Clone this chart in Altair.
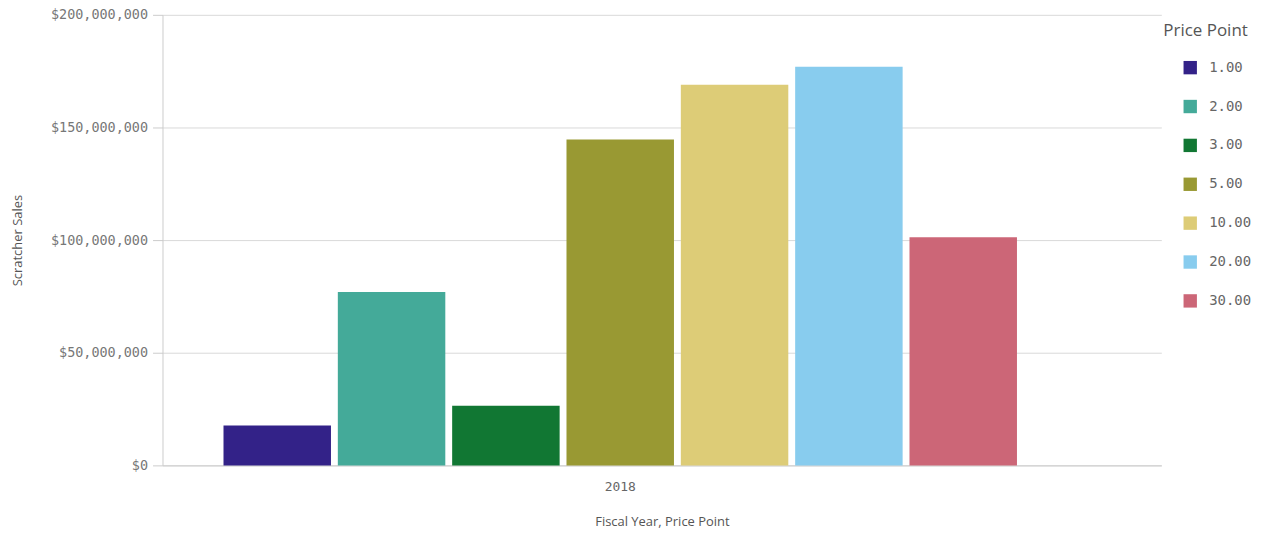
import altair as alt
import pandas as pd

years = ["2018"] * 7
prices = ["1.00", "2.00", "3.00", "5.00", "10.00", "20.00", "30.00"]
sales = [17700000, 77000000, 26500000, 144700000, 169000000, 177000000, 101300000]
colors = ["#332288", "#44aa99", "#117733", "#999933", "#ddcc77", "#88ccee", "#cc6677"]

df = pd.DataFrame({"Fiscal Year": years, "Price Point": prices, "Scratcher Sales": sales})

mono = "DejaVu Sans Mono"
sans = "Open Sans"

chart = alt.Chart(df).mark_bar().encode(
    x=alt.X(
        "Fiscal Year:N",
        scale=alt.Scale(paddingInner=0, paddingOuter=0.124, align=0.29),
        axis=alt.Axis(
            title="Fiscal Year, Price Point",
            labelAngle=0,
            ticks=False,
            labelFont=mono,
            labelFontSize=13,
            labelColor="#666666",
            labelPadding=15,
            titleFont=sans,
            titleFontSize=13,
            titleFontWeight="normal",
            titleColor="#555555",
            titlePadding=22,
            domainColor="#cccccc",
        ),
    ),
    xOffset=alt.XOffset(
        "Price Point:N",
        sort=prices,
        scale=alt.Scale(paddingInner=0.06, paddingOuter=0.03),
    ),
    y=alt.Y(
        "Scratcher Sales:Q",
        scale=alt.Scale(domain=[0, 200000000], nice=False),
        axis=alt.Axis(
            title="Scratcher Sales",
            values=[0, 50000000, 100000000, 150000000, 200000000],
            format="$,.0f",
            labelFont=mono,
            labelFontSize=13.5,
            labelColor="#777777",
            labelPadding=5,
            tickSize=10,
            tickColor="#cccccc",
            gridColor="#d9d9d9",
            domainColor="#cccccc",
            titleFont=sans,
            titleFontSize=13,
            titleFontWeight="normal",
            titleColor="#555555",
            titleX=-145,
            titleY=226,
            titleAngle=-90,
            titleAlign="center",
            titleBaseline="middle",
        ),
    ),
    color=alt.Color(
        "Price Point:N",
        sort=prices,
        scale=alt.Scale(domain=prices, range=colors),
        legend=alt.Legend(
            title="Price Point",
            orient="none",
            legendX=1004,
            legendY=8,
            titleFont=sans,
            titleFontSize=17,
            titleFontWeight="normal",
            titleColor="#555555",
            titlePadding=21,
            labelFont=mono,
            labelFontSize=14,
            labelColor="#666666",
            symbolType="square",
            symbolSize=180,
            symbolStrokeWidth=0,
            symbolOpacity=1,
            rowPadding=25,
            labelOffset=12,
            offset=0,
            padding=0,
        ),
    ),
).properties(
    width=1002,
    height=452,
    autosize=alt.AutoSizeParams(type="none"),
    padding={"left": 155, "top": 6, "right": 100, "bottom": 66},
).configure_view(stroke=None).configure_legend(symbolOffset=20)

chart.save("out.html", embed_options={"renderer": "svg", "actions": False})
